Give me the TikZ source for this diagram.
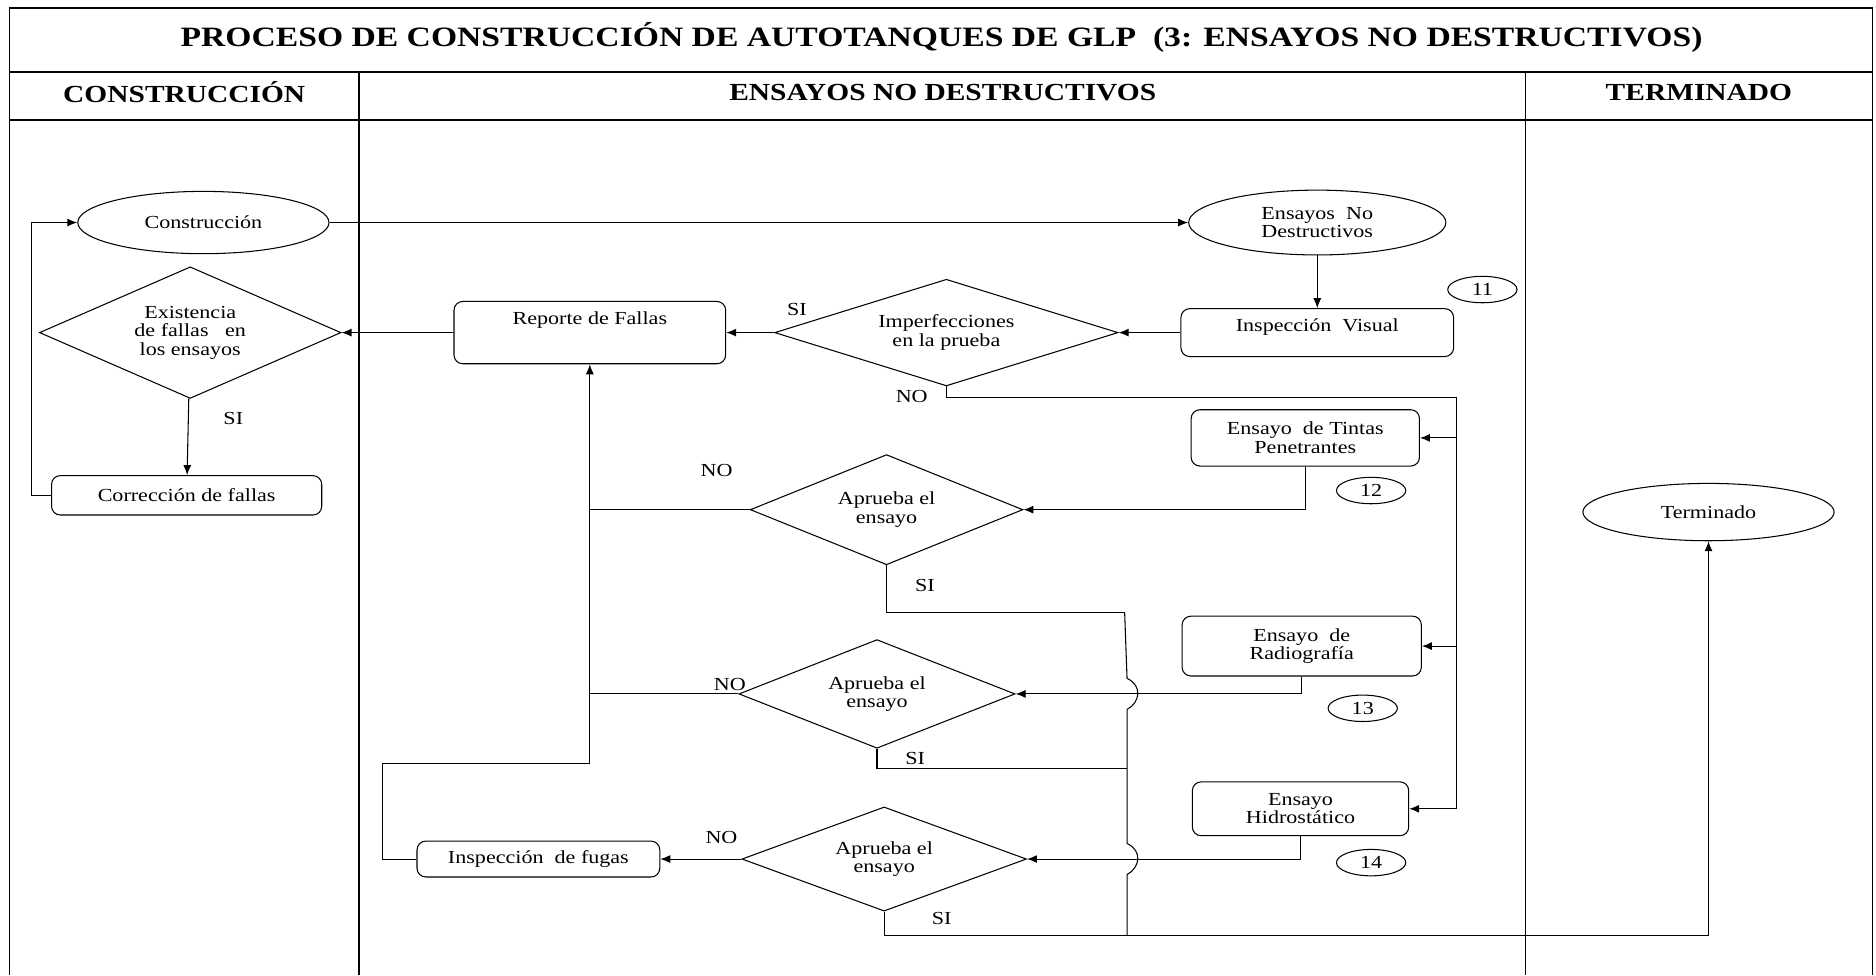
\documentclass[tikz,border=0pt]{standalone}
\usepackage{fontspec}
\setmainfont{Liberation Serif}[FakeStretch=1.2]
\usetikzlibrary{shapes.geometric,arrows.meta,calc}

\begin{document}
\begin{tikzpicture}[x=0.024cm,y=-0.024cm,line width=0.6pt,
  >={Latex[length=2mm,width=1.6mm]},
  font=\fontsize{10.5}{10.5}\selectfont,
  caja/.style={draw,rounded corners=5pt,align=center,inner sep=2pt},
  elipse/.style={draw,ellipse,align=center,inner sep=0pt},
  rombo/.style={draw,diamond,aspect=2.5,align=center,inner sep=0pt},
  marco/.style={line width=1pt},
  titulo/.style={font=\fontsize{16}{18}\selectfont\bfseries},
  cabeza/.style={font=\fontsize{14}{16}\selectfont\bfseries}]

  \useasboundingbox (0,0) rectangle (1568,815);
  \draw[marco] (8,815) -- (8,7) -- (1565,7) -- (1565,815);
  \draw[marco] (8,60) -- (1565,60);
  \draw[marco] (8,100) -- (1565,100);
  \draw[marco] (300,60) -- (300,815);
  \draw[marco] (1275,60) -- (1275,815);

  \node (tit) at (787,31) [titulo]{PROCESO DE CONSTRUCCIÓN DE AUTOTANQUES DE GLP\ \ (3: ENSAYOS NO DESTRUCTIVOS)};
  \node (col1) at (154,77) [cabeza]{CONSTRUCCIÓN};
  \node (col2) at (788,77) [cabeza]{ENSAYOS NO DESTRUCTIVOS};
  \node (col3) at (1420,77) [cabeza]{TERMINADO};

  \node (constr) at (170,186) [elipse,minimum width=5.04cm,minimum height=1.25cm]{Construcción};
  \node (exist) at (159,278) [rombo,minimum width=6.05cm,minimum height=2.64cm]{Existencia\\de fallas\ \ \ en\\los ensayos};
  \node (correc) at (156,414) [caja,minimum width=5.42cm,minimum height=0.79cm]{Corrección de fallas};
  \node (si0) at (195,350) []{SI};

  \node (endest) at (1101,186) [elipse,minimum width=5.16cm,minimum height=1.3cm]{Ensayos\ \ No\\Destructivos};
  \node (visual) at (1101,278) [caja,minimum width=5.47cm,minimum height=0.96cm,text depth=0.3cm]{Inspección\ \ Visual};
  \node (n11) at (1239,242) [elipse,minimum width=1.39cm,minimum height=0.53cm]{11};
  \node (imperf) at (791,278) [rombo,minimum width=6.89cm,minimum height=2.14cm]{Imperfecciones\\en la prueba};
  \node (reporte) at (493,278) [caja,minimum width=5.45cm,minimum height=1.25cm,text depth=0.6cm]{Reporte de Fallas};
  \node (si1) at (666,259) []{SI};
  \node (no1) at (762,331) []{NO};

  \node (tintas) at (1091,366) [caja,minimum width=4.58cm,minimum height=1.13cm]{Ensayo\ \ de Tintas\\Penetrantes};
  \node (n12) at (1146,410) [elipse,minimum width=1.39cm,minimum height=0.53cm]{12};
  \node (ap1) at (741,426) [rombo,minimum width=5.47cm,minimum height=2.21cm]{Aprueba el\\ensayo};
  \node (no2) at (599,393) []{NO};
  \node (si2) at (773,489) []{SI};

  \node (radio) at (1088,540) [caja,minimum width=4.8cm,minimum height=1.2cm]{Ensayo\ \ de\\Radiografía};
  \node (n13) at (1139,592) [elipse,minimum width=1.39cm,minimum height=0.53cm]{13};
  \node (ap2) at (733,580) [rombo,minimum width=5.54cm,minimum height=2.18cm]{Aprueba el\\ensayo};
  \node (no3) at (610,572) []{NO};
  \node (si3) at (765,634) []{SI};

  \node (hidro) at (1087,676) [caja,minimum width=4.34cm,minimum height=1.08cm]{Ensayo\\Hidrostático};
  \node (n14) at (1146,721) [elipse,minimum width=1.39cm,minimum height=0.53cm]{14};
  \node (ap3) at (739,718) [rombo,minimum width=5.71cm,minimum height=2.09cm]{Aprueba el\\ensayo};
  \node (fugas) at (450,718) [caja,minimum width=4.87cm,minimum height=0.72cm]{Inspección\ \ de fugas};
  \node (no4) at (603,700) []{NO};
  \node (si4) at (787,768) []{SI};

  \node (termin) at (1428,428) [elipse,minimum width=5.04cm,minimum height=1.15cm]{Terminado};

  \coordinate (bus) at (1217,332);
  \coordinate (codo) at (320,638);
  \coordinate (sitop) at (940,512);
  \coordinate (simid) at (942,642);
  \coordinate (sibot) at (942,782);

  \draw[->] (constr) -- (endest);
  \draw[->] (endest) -- (visual);
  \draw[->] (visual) -- (imperf);
  \draw[->] (imperf) -- (reporte);
  \draw[->] (reporte) -- (exist);
  \draw[->] (exist) -- (correc);
  \draw[->] (correc.west) -- ++(-16,0) |- (constr);

  \draw[->] (imperf.south) |- (bus) |- (hidro.east);
  \draw[->] (bus |- tintas.east) -- (tintas.east);
  \draw[->] (bus |- radio.east) -- (radio.east);

  \draw[->] (tintas.south) |- (ap1.east);
  \draw[->] (radio.south) |- (ap2.east);
  \draw[->] (hidro.south) |- (ap3.east);
  \draw[->] (ap3) -- (fugas);
  \draw[->] (fugas.west) -| (codo) -| (reporte.south);
  \draw (ap1.west) -- (ap1.west -| reporte.south);
  \draw (ap2.west) -- (ap2.west -| reporte.south);

  \draw (ap1.south) |- (sitop);
  \draw (ap2.south) |- (simid);
  \draw (sitop) -- ($(simid |- ap2.east)+(0,-13)$) .. controls +(13,6) and +(11,-6) .. ($(simid |- ap2.east)+(0,13)$)
    -- ($(simid |- ap3.east)+(0,-13)$) .. controls +(13,6) and +(11,-6) .. ($(simid |- ap3.east)+(0,13)$) -- (sibot);
  \draw[->] (ap3.south) |- (sibot) -| (termin);

\end{tikzpicture}
\end{document}
